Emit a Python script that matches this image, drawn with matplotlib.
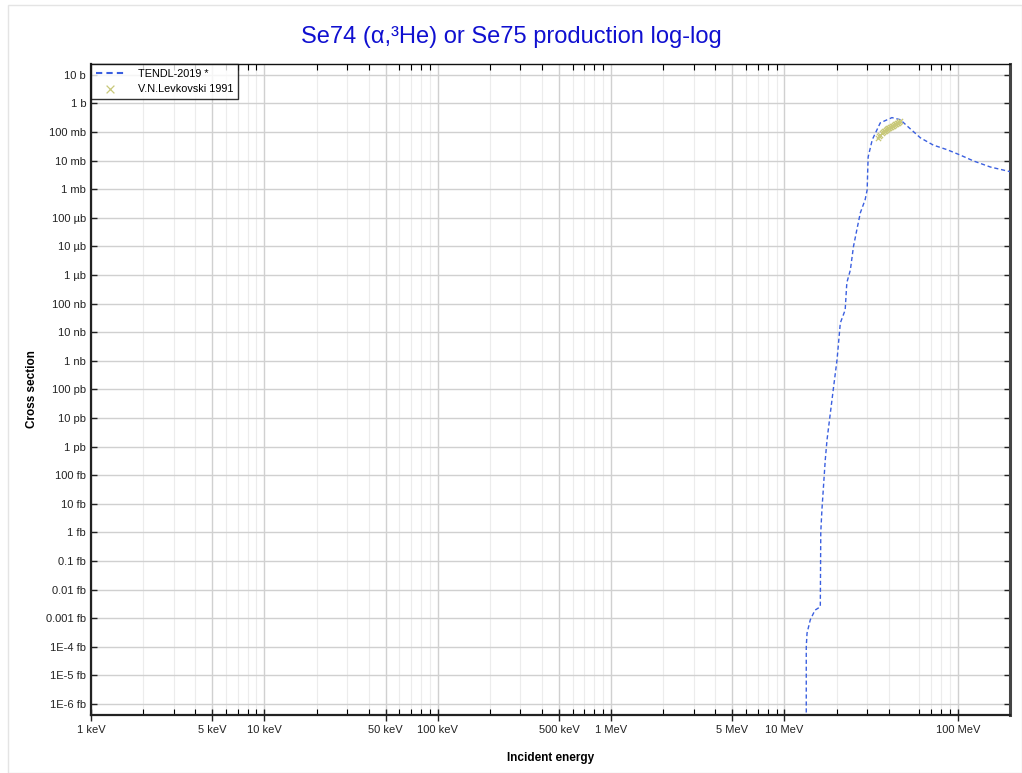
import matplotlib
matplotlib.use("Agg")
import matplotlib.pyplot as plt
from matplotlib.ticker import FixedLocator, LogLocator, NullFormatter
from matplotlib.patches import Rectangle

plt.rcParams['font.family'] = ['Liberation Sans', 'DejaVu Sans']

# TENDL-2019 evaluation: energy in MeV, cross section in barn
tendl_e = [13.36, 13.36, 13.5, 14.09, 15.0, 16.1, 16.2, 16.45, 17.2, 17.6, 18.4,
           19.2, 20.1, 21.0, 22.4, 22.9, 24.0, 25.0, 26.3, 27.4, 29.2, 30.0,
           30.2, 30.4, 32.1, 35.7, 41.7, 46.6, 51.8, 60.8, 72.2, 87.0, 103.0,
           123.0, 154.0, 201.0]
tendl_xs = [1e-23, 1e-19, 3.0e-19, 8.7e-19, 1.9e-18, 2.5e-18, 1.0e-15, 6.2e-15,
            3.5e-13, 1.7e-12, 1.5e-11, 1.2e-10, 1.07e-09, 2.1e-08, 6.0e-08,
            5.4e-07, 1.5e-06, 9.8e-06, 4.5e-05, 1.5e-04, 4.3e-04, 9.5e-04,
            4.0e-03, 1.35e-02, 5.4e-02, 0.21, 0.32, 0.27, 0.15, 0.063, 0.035,
            0.024, 0.0158, 0.0098, 0.006, 0.0041]

# V.N.Levkovski 1991 measurements
exp_e = [34.8, 35.3, 35.8, 36.3, 36.8, 37.3, 37.8, 38.3, 38.8, 39.3, 39.8,
         40.3, 40.8, 41.3, 41.8, 42.4, 43.0, 43.6, 44.2, 44.8, 45.4, 46.0, 46.6]
exp_xs = [0.063, 0.072, 0.080, 0.090, 0.097, 0.105, 0.112, 0.118, 0.124, 0.130,
          0.136, 0.142, 0.148, 0.155, 0.160, 0.168, 0.176, 0.184, 0.195, 0.205,
          0.215, 0.230, 0.245]

x_ticks = [1e-3, 5e-3, 1e-2, 5e-2, 1e-1, 5e-1, 1, 5, 10, 100]
x_labels = ['1 keV', '5 keV', '10 keV', '50 keV', '100 keV', '500 keV',
            '1 MeV', '5 MeV', '10 MeV', '100 MeV']
y_ticks = [10.0 ** k for k in range(1, -22, -1)]
y_labels = ['10 b', '1 b', '100 mb', '10 mb', '1 mb', '100 µb', '10 µb', '1 µb',
            '100 nb', '10 nb', '1 nb', '100 pb', '10 pb', '1 pb', '100 fb',
            '10 fb', '1 fb', '0.1 fb', '0.01 fb', '0.001 fb', '1E-4 fb',
            '1E-5 fb', '1E-6 fb']

fig = plt.figure(figsize=(10.22, 7.73), dpi=100)
ax = fig.add_axes([91 / 1022, 1 - 715 / 773, 919 / 1022, 651 / 773])

fig.patches.append(Rectangle((8 / 1022, 0.0), 1 - 8 / 1022, 1 - 5 / 773,
                             transform=fig.transFigure, fill=False,
                             edgecolor='#e4e4e4', linewidth=1))

ax.plot(tendl_e, tendl_xs, linestyle=(0, (3, 2)), color='#3a5fe0',
        linewidth=1.0, label='TENDL-2019 *', zorder=3)
ax.scatter(exp_e, exp_xs, marker='x', s=14, color='#c8c87a', linewidths=0.9,
           label='V.N.Levkovski 1991', zorder=4)

ax.set_xscale('log')
ax.set_yscale('log')
ax.set_xlim(1e-3, 200)
ax.set_ylim(4.1e-22, 24)

ax.xaxis.set_major_locator(FixedLocator(x_ticks))
ax.set_xticklabels(x_labels)
ax.xaxis.set_minor_locator(LogLocator(base=10, subs=[2, 3, 4, 6, 7, 8, 9], numticks=30))
ax.xaxis.set_minor_formatter(NullFormatter())
ax.yaxis.set_major_locator(FixedLocator(y_ticks))
ax.set_yticklabels(y_labels)
ax.yaxis.set_minor_locator(FixedLocator([]))

ax.grid(True, which='major', color='#d0d0d0', linewidth=1.0)
ax.grid(True, which='minor', axis='x', color='#ececec', linewidth=0.8)
ax.set_axisbelow(True)

ax.tick_params(axis='both', which='major', direction='inout', length=8,
               width=1, labelsize=8, colors='#222222', top=False, right=True)
ax.tick_params(axis='x', which='minor', direction='in', length=4, width=0.8,
               top=True, bottom=True)
ax.tick_params(axis='y', which='major', right=True, direction='in', length=4)
ax.tick_params(axis='y', which='major', left=True)

for side in ['left', 'bottom']:
    ax.spines[side].set_linewidth(1.6)
    ax.spines[side].set_color('#222222')
ax.spines['top'].set_linewidth(1.0)
ax.spines['top'].set_color('#111111')
ax.spines['right'].set_linewidth(2.2)
ax.spines['right'].set_color('#444444')

ax.set_xlabel('Incident energy', fontsize=8.5, fontweight='bold', labelpad=12)
ax.set_ylabel('Cross section', fontsize=8.5, fontweight='bold', labelpad=6)
fig.suptitle('Se74 (α,³He) or Se75 production log-log', color='#1010d0',
             fontsize=17, y=0.966)

leg = ax.legend(loc='upper left', fontsize=7.8, frameon=True, fancybox=False,
                borderaxespad=0, handlelength=2.6, borderpad=0.45,
                labelspacing=0.45, handletextpad=1.3, markerscale=1.5)
leg.get_frame().set_edgecolor('black')
leg.get_frame().set_linewidth(1.0)
leg.get_lines()[0].set_linewidth(1.5)

fig.savefig('out.png', dpi=100)
